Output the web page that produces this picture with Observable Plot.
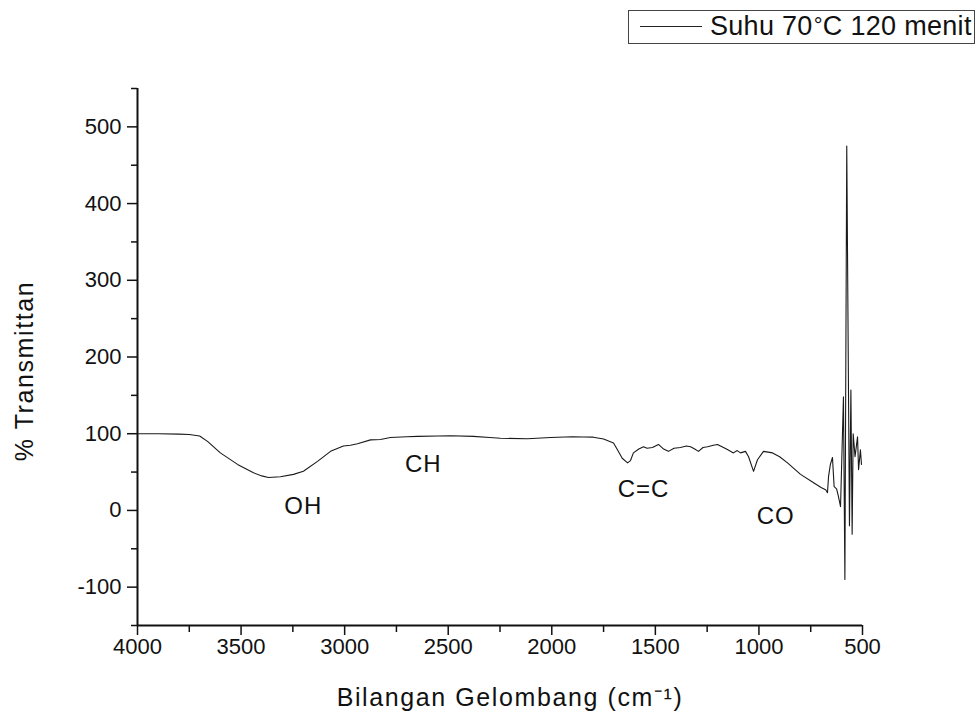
<!DOCTYPE html>
<html>
<head>
<meta charset="utf-8">
<script src="https://cdn.jsdelivr.net/npm/d3@7"></script>
<script src="https://cdn.jsdelivr.net/npm/@observablehq/plot@0.6"></script>
<style>
  html, body { margin: 0; padding: 0; background: #fff; }
  #wrap { position: relative; width: 979px; height: 718px; font-family: "Liberation Sans", Arial, sans-serif; }
  #legend { position: absolute; left: 628px; top: 10px; width: 345px; height: 32px; border: 1px solid #444; background: #fff; box-sizing: content-box; }
  #legend .sw { position: absolute; left: 11px; top: 15px; width: 62px; height: 0; border-top: 1px solid #222; }
  #legend .tx { position: absolute; left: 81px; top: 0px; font-size: 27px; line-height: 30px; color: #111; white-space: nowrap; letter-spacing: 0.3px; }
  #legend .deg { position: relative; top: -2px; font-size: 22px; margin-left: 1px; }
</style>
</head>
<body>
<div id="wrap">
  <div id="chart"></div>
  <div id="legend"><div class="sw"></div><div class="tx">Suhu 70<span class="deg">°</span>C 120 menit</div></div>
</div>
<script>
// ---- data ----
const wavenumber = [
  4000, 3900, 3800, 3750, 3700, 3662, 3600, 3517, 3440, 3400, 3368, 3310, 3247, 3199, 3131,
  3068, 3006, 2972, 2938, 2875, 2827, 2779, 2700, 2648, 2550, 2489, 2378, 2300, 2248, 2117,
  2006, 1900, 1847, 1800, 1750, 1702, 1683, 1660, 1634, 1620, 1606, 1580, 1557, 1540, 1514,
  1485, 1460, 1437, 1410, 1379, 1350, 1330, 1310, 1292, 1270, 1248, 1220, 1200, 1171, 1150,
  1123, 1105, 1089, 1065, 1050, 1026, 1007, 978, 934, 900, 862, 799, 736, 700, 678,
  669, 664, 655, 645, 637, 625, 616, 606, 592, 585, 576, 563, 556, 550, 545,
  536, 524, 519, 510, 505
];
const transmittance = [
  100, 100, 99.5, 99, 97, 90, 75, 60, 49, 45, 43, 44, 47, 51, 64,
  77, 84, 85, 87, 92, 92.5, 95, 96, 96.5, 97, 97.4, 96.5, 95, 94, 93.5,
  95, 96, 95.7, 95.5, 93, 88, 79, 68, 62, 65, 75, 80, 83, 81, 82,
  86, 80, 77, 81, 82, 84, 83, 80, 77, 82, 83, 85, 86, 82, 79,
  75, 78, 75, 77, 70, 51, 66, 77, 75, 70, 62, 47, 36, 30, 27,
  23, 44, 60, 69, 31, 28, 18, 5, 148, -90, 475, -20, 157, -31, 100,
  70, 96, 53, 79, 60
];
const xDomain = [4000, 500];
const yDomain = [-150, 550];
const xMajorTicks = [4000, 3500, 3000, 2500, 2000, 1500, 1000, 500];
const xMinorTicks = [3750, 3250, 2750, 2250, 1750, 1250, 750];
const yMajorTicks = [-100, 0, 100, 200, 300, 400, 500];
const yMinorTicks = [-150, -50, 50, 150, 250, 350, 450, 550];
const bandLabels = ["OH", "CH", "C=C", "CO"];
const bandX = [3200, 2620, 1557, 919];
const bandY = [5, 60, 27, -8];
const xTitle = "Bilangan Gelombang (cm\u207B\u00B9)";
const yTitle = "% Transmittan";

const spectrum = wavenumber.map((w, i) => ({w, t: transmittance[i]}));
const bands = bandLabels.map((s, i) => ({s, x: bandX[i], y: bandY[i]}));

const chart = Plot.plot({
  width: 979,
  height: 718,
  marginLeft: 137,
  marginRight: 117,
  marginTop: 88,
  marginBottom: 93,
  x: {domain: xDomain},
  y: {domain: yDomain},
  style: {fontFamily: "'Liberation Sans', Arial, sans-serif", color: "#111", background: "#fff"},
  marks: [
    Plot.axisX(xMajorTicks, {tickSize: 10, tickPadding: 3, fontSize: 22, label: null, tickFormat: d => String(d), stroke: "#111", strokeWidth: 1.5}),
    Plot.axisX(xMinorTicks, {tickSize: 7, label: null, tickFormat: () => "", stroke: "#111", strokeWidth: 1.5}),
    Plot.axisY(yMajorTicks, {tickSize: 10, tickPadding: 6, fontSize: 22, label: null, tickFormat: d => String(d), stroke: "#111", strokeWidth: 1.5}),
    Plot.axisY(yMinorTicks, {tickSize: 6, label: null, tickFormat: () => "", stroke: "#111", strokeWidth: 1.5}),
    Plot.ruleY([yDomain[0]], {stroke: "#111", strokeWidth: 2}),
    Plot.ruleX([xDomain[0]], {stroke: "#111", strokeWidth: 2}),
    Plot.line(spectrum, {x: "w", y: "t", stroke: "#1a1a1a", strokeWidth: 1.1}),
    Plot.text(bands, {x: "x", y: "y", text: "s", fontSize: 24, fill: "#111"}),
    Plot.text([xTitle], {text: d => d, frameAnchor: "bottom", lineAnchor: "middle", textAnchor: "middle", dx: 10, dy: 72, fontSize: 25, fill: "#111"}),
    Plot.text([yTitle], {text: d => d, frameAnchor: "left", lineAnchor: "middle", textAnchor: "middle", dx: -113, dy: 14, rotate: -90, fontSize: 25, fill: "#111"})
  ]
});
document.getElementById("chart").appendChild(chart);
const root = d3.select(chart);
root.selectAll("text").filter(function () { return this.textContent === xTitle || this.textContent === yTitle; })
  .style("letter-spacing", "1.6px");
root.selectAll("text").filter(function () { return bandLabels.includes(this.textContent); })
  .style("letter-spacing", "1px");
</script>
</body>
</html>
